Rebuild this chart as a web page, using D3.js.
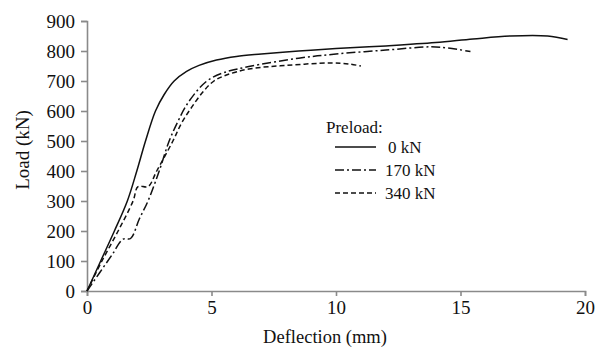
<!DOCTYPE html>
<html>
<head>
<meta charset="utf-8">
<script src="https://cdn.jsdelivr.net/npm/d3@7"></script>
<style>
  body { margin: 0; background: #fff; }
  svg { display: block; }
  text { font-family: "Liberation Serif", "Times New Roman", "DejaVu Serif", serif; }
</style>
</head>
<body>
<svg id="chart" width="608" height="350"></svg>
<script>
// Load-deflection curves, [deflection mm, load kN]
const preload0 = [[0,0],[0.55,100],[1.1,200],[1.62,300],[2.0,400],[2.35,500],[2.75,600],[3.1,655],[3.5,700],[4.0,732],[4.5,752],[5.2,770],[6,782],[7,790],[8.5,800],[10,808],[12,817],[14,828],[15.5,840],[17,850],[18.5,850],[19.3,838]];
const preload170 = [[0,0],[0.5,60],[1.0,120],[1.45,173],[1.75,175],[2.1,240],[2.45,300],[2.9,400],[3.3,500],[3.65,565],[4.0,620],[4.5,675],[4.9,705],[5.5,728],[6.5,748],[8.5,776],[10,790],[12,803],[13.8,814],[14.5,810],[15.4,798]];
const preload340 = [[0,0],[0.6,100],[1.25,200],[1.85,300],[2.05,348],[2.45,348],[2.8,400],[3.45,500],[3.8,560],[4.2,612],[4.7,668],[5.1,700],[5.6,720],[6.5,740],[8,752],[9.8,760],[10.5,757],[11,750]];

const seriesNames = ['0 kN', '170 kN', '340 kN'];
const seriesDash = [null, '9,3,2,3', '5,3'];
const xTicks = [0, 5, 10, 15, 20];
const yTicks = [0, 100, 200, 300, 400, 500, 600, 700, 800, 900];

const serif = '"Liberation Serif", "Times New Roman", serif';

const svg = d3.select('#chart');
const margin = { top: 21, right: 23, bottom: 59, left: 87 };
const width = 608, height = 350;
const innerWidth = width - margin.left - margin.right;
const innerHeight = height - margin.top - margin.bottom;

const g = svg.append('g').attr('transform', `translate(${margin.left},${margin.top})`);

const xScale = d3.scaleLinear().domain([0, 20]).range([0, innerWidth]);
const yScale = d3.scaleLinear().domain([0, 900]).range([innerHeight, 0]);

// Axes
g.append('g')
  .attr('transform', `translate(0,${innerHeight})`)
  .call(d3.axisBottom(xScale).tickValues(xTicks).tickSize(5).tickPadding(5).tickFormat(d3.format('d')))
  .call(a => a.selectAll('path, line').attr('stroke', '#8a8a8a').attr('stroke-width', 1.6))
  .selectAll('text')
  .attr('font-family', serif)
  .attr('font-size', '19px')
  .attr('fill', '#111');

g.append('g')
  .call(d3.axisLeft(yScale).tickValues(yTicks).tickSize(6).tickPadding(6).tickFormat(d3.format('d')))
  .call(a => a.selectAll('path, line').attr('stroke', '#8a8a8a').attr('stroke-width', 1.6))
  .selectAll('text')
  .attr('font-family', serif)
  .attr('font-size', '19px')
  .attr('fill', '#111');

// Curves
const line = d3.line()
  .x(d => xScale(d[0]))
  .y(d => yScale(d[1]))
  .curve(d3.curveCatmullRom.alpha(0.5));

[preload0, preload170, preload340].forEach((data, i) => {
  g.append('path')
    .datum(data)
    .attr('fill', 'none')
    .attr('stroke', '#111')
    .attr('stroke-width', 1.5)
    .attr('stroke-dasharray', seriesDash[i])
    .attr('d', line);
});

// Axis titles
svg.append('text')
  .attr('x', 325)
  .attr('y', 343)
  .attr('text-anchor', 'middle')
  .attr('font-family', serif)
  .attr('font-size', '18.5px')
  .attr('fill', '#111')
  .text('Deflection (mm)');

svg.append('text')
  .attr('transform', 'translate(29,150) rotate(-90)')
  .attr('text-anchor', 'middle')
  .attr('font-family', serif)
  .attr('font-size', '19px')
  .attr('fill', '#111')
  .text('Load (kN)');

// Legend
const legend = svg.append('g').attr('transform', 'translate(326,133)');
legend.append('text')
  .attr('x', 0)
  .attr('y', 0)
  .attr('font-family', serif)
  .attr('font-size', '17px')
  .attr('fill', '#111')
  .text('Preload:');

seriesNames.forEach((name, i) => {
  const y = 14 + i * 23;
  legend.append('line')
    .attr('x1', 9).attr('x2', 50)
    .attr('y1', y).attr('y2', y)
    .attr('stroke', '#111')
    .attr('stroke-width', 1.5)
    .attr('stroke-dasharray', seriesDash[i]);
  legend.append('text')
    .attr('x', i === 0 ? 62 : 59)
    .attr('y', y + 6)
    .attr('font-family', serif)
    .attr('font-size', '17px')
    .attr('fill', '#111')
    .text(name);
});
</script>
</body>
</html>
